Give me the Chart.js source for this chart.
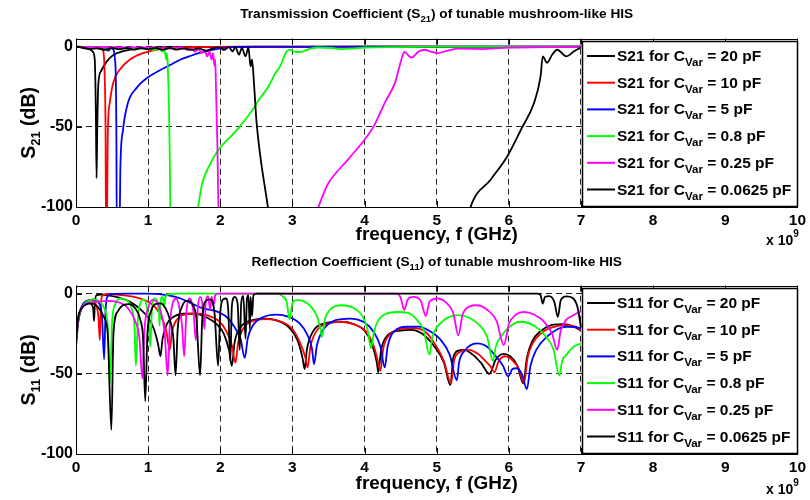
<!DOCTYPE html>
<html>
<head>
<meta charset="utf-8">
<script src="https://cdn.jsdelivr.net/npm/chart.js@4.4.0/dist/chart.umd.min.js"></script>
<style>
  body { margin: 0; background: #fff; }
  canvas { display: block; }
</style>
</head>
<body>
<canvas id="s21" width="810" height="250"></canvas>
<canvas id="s11" width="810" height="250"></canvas>
<script>
// frequency in GHz, value in dB
const capLabels = ["20 pF", "10 pF", "5 pF", "0.8 pF", "0.25 pF", "0.0625 pF"];
const colors = ["#000000", "#ff0000", "#0000ff", "#00ff00", "#ff00ff", "#000000"];
const xTicks = [0, 1, 2, 3, 4, 5, 6, 7, 8, 9, 10];
const yTicks = [-100, -50, 0];

// S21 (transmission)
const s21_20pF = [[0,0],[0.05,-0.3],[0.1,-0.8],[0.15,-1.2],[0.2,-1.8],[0.23,-3],[0.26,-8],[0.275,-40],[0.285,-82],[0.295,-50],[0.31,-23],[0.35,-15],[0.42,-9.6],[0.51,-5.4],[0.6,-3.5],[0.7,-2.3],[0.85,-1.2],[1.0,-0.6],[1.3,-0.3],[2,-0.2],[3,-0.1],[4,0],[5,0],[6,0],[7,0]];
const s21_10pF = [[0,0],[0.1,-0.2],[0.2,-0.5],[0.3,-1],[0.35,-1.5],[0.376,-2.5],[0.395,-14],[0.41,-56],[0.415,-110],[0.43,-110],[0.44,-56],[0.468,-35],[0.515,-22.6],[0.606,-14.3],[0.744,-8.1],[0.93,-4],[1.11,-1.9],[1.29,-0.8],[1.6,-0.3],[2.2,0],[7,0]];
const s21_5pF = [[0,0],[0.2,-0.5],[0.4,-1],[0.45,-2.5],[0.48,-0.8],[0.52,-2],[0.54,-8],[0.55,-16],[0.56,-56],[0.565,-110],[0.605,-110],[0.615,-76],[0.652,-51.7],[0.72,-35],[0.835,-26],[1.0,-19],[1.15,-15],[1.3,-11.5],[1.45,-8],[1.57,-6],[1.7,-4],[1.85,-2.3],[2.0,-1],[2.15,-0.2],[2.5,0],[7,0]];
const s21_08pF = [[0,0],[0.2,-0.3],[0.4,-0.5],[0.6,-0.8],[0.8,-1],[1.0,-1.2],[1.1,-2],[1.15,-1],[1.2,-3],[1.22,-1.5],[1.24,-5],[1.25,-8],[1.26,-4],[1.27,-10],[1.29,-40],[1.3,-70],[1.31,-110],[1.64,-110],[1.75,-85],[1.85,-74],[1.98,-64],[2.21,-53],[2.44,-40],[2.53,-33.4],[2.67,-24.7],[2.76,-16.8],[2.83,-12.3],[2.92,-2.9],[2.97,-2],[3.05,-3.3],[3.12,-3.2],[3.25,-1.2],[3.36,-0.5],[3.55,-0.8],[3.7,-1.5],[3.85,-1],[4.0,-0.5],[4.5,-0.2],[5,0],[7,0]];
const s21_025pF = [[0,0],[0.5,-0.3],[1.0,-0.5],[1.3,-1],[1.45,-0.5],[1.55,-2],[1.6,-1],[1.65,-3],[1.7,-1.5],[1.74,-4],[1.78,-2],[1.82,-6],[1.85,-3],[1.88,-8],[1.9,-4],[1.92,-12],[1.93,-8],[1.94,-25],[1.96,-62],[1.98,-110],[3.22,-110],[3.5,-85],[3.77,-70.4],[4.0,-58],[4.14,-48.6],[4.28,-35],[4.42,-22.7],[4.51,-8.1],[4.55,-3.3],[4.65,-6.8],[4.75,-3],[4.83,-1.9],[4.92,-3],[5.01,-4],[5.15,-2.5],[5.3,-1.2],[5.5,-1.3],[5.65,-1.5],[5.8,-1],[6.0,-0.5],[6.5,-0.3],[7,0]];
const s21_00625pF = [[0,0],[0.1,-0.5],[0.2,-1.5],[0.3,-1],[0.4,-2],[0.5,-0.8],[0.6,-1.5],[0.7,-0.8],[0.8,-1.8],[0.9,-0.8],[1.0,-1.5],[1.1,-0.8],[1.2,-2],[1.3,-0.8],[1.4,-1.8],[1.5,-1],[1.6,-2],[1.7,-1],[1.8,-2.5],[1.9,-1],[1.98,-0.3],[2.05,-2],[2.12,-0.2],[2.17,-2.9],[2.21,-0.3],[2.26,-5],[2.3,-0.8],[2.35,-6],[2.39,-0.5],[2.42,-12.3],[2.44,-8],[2.47,-24.7],[2.5,-45.5],[2.56,-70],[2.63,-91],[2.66,-100],[2.7,-110],[5.42,-110],[5.47,-100],[5.75,-82.8],[5.98,-68.3],[6.18,-50.7],[6.35,-35],[6.44,-18.5],[6.47,-6],[6.53,-10],[6.6,-5],[6.67,-1.9],[6.8,-6],[6.9,-3],[7.0,-0.5]];

// S11 (reflection)
const s11_20pF = [[0,-33],[0.03,-18],[0.07,-10],[0.12,-7],[0.18,-5.5],[0.22,-7],[0.24,-10],[0.25,-17],[0.26,-8],[0.28,-1],[0.35,-0.5],[0.45,-1],[0.6,-2.5],[0.75,-5],[0.9,-10],[1.0,-15],[1.08,-22],[1.14,-32],[1.17,-39],[1.2,-28],[1.26,-19],[1.35,-14.5],[1.5,-12.5],[1.65,-12.5],[1.8,-14.5],[1.95,-19],[2.05,-25],[2.12,-35],[2.16,-45],[2.2,-30],[2.28,-21],[2.45,-16.5],[2.62,-15.5],[2.8,-17],[2.95,-21],[3.07,-29],[3.14,-40],[3.17,-47],[3.2,-35],[3.28,-24],[3.45,-18.5],[3.65,-17.5],[3.85,-19],[4.0,-23],[4.1,-31],[4.17,-43],[4.19,-49],[4.23,-35],[4.32,-26],[4.5,-23],[4.65,-22.5],[4.8,-25],[4.97,-33],[5.1,-43],[5.19,-57],[5.23,-40],[5.3,-35.5],[5.38,-35],[5.5,-38],[5.62,-43.5],[5.73,-50],[5.82,-41],[5.93,-37.5],[6.02,-39],[6.12,-45],[6.2,-56],[6.25,-40],[6.32,-30],[6.45,-23],[6.6,-19.5],[6.76,-19],[6.9,-20.5],[7.0,-23]];
const s11_10pF = [[0,-30],[0.03,-16],[0.08,-8],[0.15,-4.5],[0.22,-4],[0.28,-7],[0.31,-14],[0.33,-29],[0.345,-8],[0.36,-1.5],[0.42,-0.3],[0.55,-0.5],[0.7,-1.2],[0.85,-2.5],[1.0,-5],[1.1,-8.5],[1.18,-14],[1.25,-23],[1.3,-35],[1.33,-24],[1.4,-16],[1.5,-13],[1.66,-12.3],[1.82,-13.5],[1.98,-17],[2.08,-23],[2.16,-32],[2.21,-43],[2.25,-30],[2.33,-21],[2.5,-16.5],[2.66,-15.8],[2.85,-17.5],[3.0,-22],[3.11,-31],[3.18,-40],[3.21,-46],[3.25,-33],[3.33,-23.5],[3.5,-18.5],[3.68,-17.5],[3.88,-19.5],[4.03,-24],[4.13,-33],[4.19,-43],[4.22,-48],[4.26,-34],[4.35,-25.5],[4.52,-22],[4.68,-21.5],[4.85,-24],[4.97,-31],[5.1,-42],[5.2,-56],[5.24,-42],[5.3,-37],[5.45,-35],[5.57,-37.5],[5.66,-41.3],[5.74,-45],[5.8,-49],[5.86,-42],[5.95,-39],[6.05,-41.5],[6.14,-47],[6.21,-56],[6.26,-40],[6.33,-31],[6.45,-24.5],[6.6,-21],[6.8,-19.6],[6.92,-20.5],[7.0,-22.7]];
const s11_5pF = [[0,-30],[0.03,-16],[0.08,-8],[0.15,-4.5],[0.25,-3.5],[0.32,-6],[0.36,-14],[0.39,-41],[0.41,-10],[0.44,-1.5],[0.5,-0.3],[0.7,0],[1.0,0],[1.15,-0.3],[1.3,-1.2],[1.45,-3],[1.6,-6],[1.75,-9],[1.95,-11],[2.1,-15],[2.2,-21],[2.28,-28],[2.34,-40],[2.38,-28],[2.45,-20],[2.6,-14.5],[2.78,-13],[2.95,-14.5],[3.1,-18.5],[3.2,-25],[3.27,-34],[3.3,-44],[3.34,-32],[3.42,-23],[3.6,-16.5],[3.8,-15.5],[4.0,-18],[4.13,-24],[4.22,-33],[4.28,-46],[4.32,-33],[4.4,-24],[4.6,-20.6],[4.75,-20.5],[4.88,-22.7],[5.06,-29],[5.18,-38],[5.28,-54],[5.31,-43],[5.38,-36],[5.56,-31],[5.68,-32.5],[5.8,-38],[5.92,-45],[5.99,-51.6],[6.05,-47],[6.1,-46.5],[6.18,-50],[6.25,-59.5],[6.3,-45],[6.38,-35],[6.53,-26.8],[6.68,-22],[6.8,-20.6],[6.93,-20.8],[7.0,-21.7]];
const s11_08pF = [[0,-30],[0.03,-16],[0.08,-9],[0.15,-5],[0.25,-3.5],[0.33,-5],[0.4,-10],[0.44,-20],[0.47,-56],[0.5,-18],[0.55,-6],[0.62,-3],[0.7,-4],[0.77,-9],[0.81,-20],[0.83,-45],[0.86,-15],[0.9,-5],[0.94,-3.5],[0.98,-8],[1.01,-18],[1.03,-33],[1.05,-12],[1.08,-3],[1.12,-4],[1.15,-12],[1.16,-20],[1.17,-6],[1.19,-2],[1.21,-4],[1.22,-8],[1.24,-2],[1.28,-0.3],[1.4,0],[2.8,0],[2.86,-1.5],[2.92,-5],[2.96,-16],[3.0,-6],[3.05,-4],[3.12,-4.2],[3.22,-6.5],[3.32,-12],[3.38,-20],[3.41,-27],[3.45,-16],[3.52,-10],[3.68,-7.2],[3.85,-9],[3.97,-14],[4.04,-22],[4.09,-34],[4.13,-24],[4.19,-16.5],[4.3,-12.5],[4.45,-11.4],[4.6,-12],[4.72,-16],[4.82,-23],[4.9,-38],[4.94,-27],[5.01,-20.6],[5.15,-15],[5.29,-13.4],[5.45,-15],[5.6,-20],[5.7,-27],[5.78,-42],[5.82,-33],[5.89,-26.8],[6.0,-21],[6.16,-17.5],[6.35,-20],[6.5,-26],[6.62,-35],[6.7,-51],[6.74,-42],[6.8,-38],[6.9,-33],[7.0,-31]];
const s11_025pF = [[0,-30],[0.03,-16],[0.08,-9],[0.15,-6],[0.3,-5],[0.45,-4.5],[0.6,-5.5],[0.72,-9],[0.82,-17],[0.88,-28],[0.92,-53],[0.95,-22],[1.0,-9],[1.06,-4],[1.12,-5],[1.18,-12],[1.23,-25],[1.27,-51],[1.3,-20],[1.34,-6],[1.39,-3],[1.43,-8],[1.47,-20],[1.5,-39],[1.53,-12],[1.57,-3],[1.6,-5],[1.63,-12],[1.66,-29],[1.69,-8],[1.72,-2],[1.75,-6],[1.78,-22],[1.8,-5],[1.83,-1.5],[1.86,-10],[1.88,-2],[1.91,-7],[1.93,-1],[1.97,0],[4.45,0],[4.5,-2.5],[4.55,-10],[4.6,-3.5],[4.68,-2],[4.78,-4.5],[4.85,-14],[4.9,-5],[5.01,-3],[5.13,-5.5],[5.23,-12],[5.3,-26],[5.36,-13],[5.45,-8],[5.56,-7.2],[5.7,-10],[5.83,-17],[5.93,-32],[6.0,-19],[6.1,-13],[6.21,-11.4],[6.35,-13],[6.5,-18],[6.6,-25],[6.67,-35],[6.72,-23],[6.8,-16],[6.85,-14.5],[6.93,-12.5],[7.0,-11]];
const s11_00625pF = [[0,-30],[0.03,-15],[0.08,-9],[0.15,-6.5],[0.22,-6],[0.3,-8],[0.38,-14],[0.44,-25],[0.49,-85],[0.52,-24],[0.58,-11],[0.66,-7],[0.74,-6.5],[0.82,-9],[0.89,-16],[0.93,-28],[0.96,-67],[0.99,-25],[1.04,-11],[1.1,-6.5],[1.17,-6],[1.24,-9],[1.3,-16],[1.35,-28],[1.38,-51],[1.41,-22],[1.47,-8],[1.55,-4.5],[1.62,-7],[1.67,-16],[1.72,-51],[1.75,-16],[1.8,-4.5],[1.86,-3.5],[1.92,-12],[1.97,-45],[2.0,-12],[2.04,-3.5],[2.08,-3],[2.11,-10],[2.14,-42],[2.16,-8],[2.2,-2],[2.24,-6],[2.27,-35],[2.29,-6],[2.32,-1.5],[2.35,-28],[2.37,-3],[2.39,-1],[2.41,-22],[2.42,-2],[2.44,-14],[2.46,-1],[2.5,0],[6.4,0],[6.44,-1],[6.47,-6.2],[6.5,-2],[6.56,-1.5],[6.63,-5],[6.68,-14.5],[6.72,-4],[6.8,-1.6],[6.88,-2.5],[6.95,-8],[7.0,-21]];

const s21Series = [s21_20pF, s21_10pF, s21_5pF, s21_08pF, s21_025pF, s21_00625pF];
const s11Series = [s11_20pF, s11_10pF, s11_5pF, s11_08pF, s11_025pF, s11_00625pF];

const FONT = '"Liberation Sans", Arial, Helvetica, sans-serif';
function bold(size) { return "bold " + size + "px " + FONT; }

// text made of [string, size, baselineShift] pieces (for subscripts)
function drawRich(ctx, parts, x, y, align) {
  let w = 0;
  parts.forEach(p => { ctx.font = bold(p[1]); w += ctx.measureText(p[0]).width; });
  if (align === "center") x -= w / 2;
  parts.forEach(p => {
    ctx.font = bold(p[1]);
    ctx.fillText(p[0], x, y + (p[2] || 0));
    x += ctx.measureText(p[0]).width;
  });
}

const frame = {
  id: "frame",
  afterDatasetsDraw(chart, args, o) {
    const ctx = chart.ctx, a = chart.chartArea;
    const xs = chart.scales.x, ys = chart.scales.y;
    ctx.save();
    ctx.strokeStyle = "#000";
    ctx.lineWidth = 1;
    ctx.beginPath();
    xTicks.forEach(v => {
      const px = Math.round(xs.getPixelForValue(v)) + 0.5;
      ctx.moveTo(px, a.bottom); ctx.lineTo(px, a.bottom - 6);
      ctx.moveTo(px, a.top); ctx.lineTo(px, a.top + 6);
    });
    yTicks.forEach(v => {
      const py = Math.round(ys.getPixelForValue(v)) + 0.5;
      ctx.moveTo(a.left, py); ctx.lineTo(a.left + 6, py);
      ctx.moveTo(a.right, py); ctx.lineTo(a.right - 6, py);
    });
    ctx.stroke();
    ctx.strokeRect(Math.round(a.left) + 0.5, Math.round(a.top) + 0.5, Math.round(a.width), Math.round(a.height));

    // legend box
    const lx = Math.round(a.right) - 215, ly = Math.round(a.top) + 2, lw = 215, lh = Math.round(a.height) - 3;
    ctx.fillStyle = "#fff";
    ctx.fillRect(lx, ly, lw, lh);
    ctx.lineWidth = 1.5;
    ctx.strokeRect(lx + 0.5, ly + 0.5, lw, lh);
    chart.data.datasets.forEach((ds, i) => {
      const y = ly + 15 + i * 26.7;
      ctx.strokeStyle = ds.borderColor;
      ctx.lineWidth = 2;
      ctx.beginPath(); ctx.moveTo(lx + 5, y); ctx.lineTo(lx + 33, y); ctx.stroke();
      ctx.fillStyle = "#000";
      ctx.textBaseline = "alphabetic";
      drawRich(ctx, [[o.name + " for C", 15.5], ["Var", 11.5, 5], [" = " + capLabels[i], 15.5]], lx + 35, y + 5);
    });

    // titles and labels
    const cx = (a.left + a.right) / 2;
    ctx.fillStyle = "#000";
    drawRich(ctx, o.title, cx, o.titleY, "center");
    drawRich(ctx, [["frequency, f (GHz)", 19]], cx, a.bottom + o.xlabDy, "center");
    drawRich(ctx, [["x 10", 14], ["9", 10, -8]], 766, a.bottom + o.expDy);
    ctx.save();
    ctx.translate(35, (a.top + a.bottom) / 2);
    ctx.rotate(-Math.PI / 2);
    drawRich(ctx, [["S", 19.5], [o.sub, 13, 5], [" (dB)", 19.5]], 0, 0, "center");
    ctx.restore();
    ctx.restore();
  }
};

function makeChart(id, series, opts) {
  return new Chart(document.getElementById(id), {
    type: "line",
    data: {
      datasets: series.map((s, i) => ({
        label: opts.name + " for C_Var = " + capLabels[i],
        data: s.map(p => ({ x: p[0], y: p[1] })),
        borderColor: colors[i],
        borderWidth: 1.8,
        pointRadius: 0,
        cubicInterpolationMode: "monotone",
        fill: false,
        order: -i
      }))
    },
    options: {
      responsive: false,
      animation: false,
      devicePixelRatio: 1,
      layout: { padding: { top: opts.top, right: 8, left: 0, bottom: 0 } },
      plugins: {
        legend: { display: false },
        title: { display: false },
        tooltip: { enabled: false },
        frame: opts
      },
      scales: {
        x: {
          type: "linear", min: 0, max: 10,
          afterBuildTicks: s => { s.ticks = xTicks.map(v => ({ value: v })); },
          afterFit: s => { s.height = opts.xh; },
          grid: { color: "rgba(0,0,0,0.85)", lineWidth: 1, drawTicks: false },
          border: { display: false, dash: [6, 4] },
          ticks: { color: "#000", font: { family: FONT, size: 15.5, weight: "bold" }, padding: 4, maxRotation: 0, callback: v => String(v) }
        },
        y: {
          type: "linear", min: -100, max: 5,
          afterBuildTicks: s => { s.ticks = yTicks.map(v => ({ value: v })); },
          afterFit: s => { s.width = 76; },
          grid: { color: "rgba(0,0,0,0.85)", lineWidth: 1, drawTicks: false },
          border: { display: false, dash: [6, 4] },
          ticks: { color: "#000", font: { family: FONT, size: 16, weight: "bold" }, padding: 3, callback: v => String(v) }
        }
      }
    },
    plugins: [frame]
  });
}

makeChart("s21", s21Series, {
  name: "S21", sub: "21", top: 38.7, xh: 43, titleY: 18, xlabDy: 33, expDy: 38,
  title: [["Transmission Coefficient (S", 13.7], ["21", 9.5, 4], [") of tunable mushroom-like HIS", 13.7]]
});
makeChart("s11", s11Series, {
  name: "S11", sub: "11", top: 35.7, xh: 46, titleY: 16, xlabDy: 35, expDy: 40,
  title: [["Reflection Coefficient (S", 13.7], ["11", 9.5, 4], [") of tunable mushroom-like HIS", 13.7]]
});
</script>
</body>
</html>
